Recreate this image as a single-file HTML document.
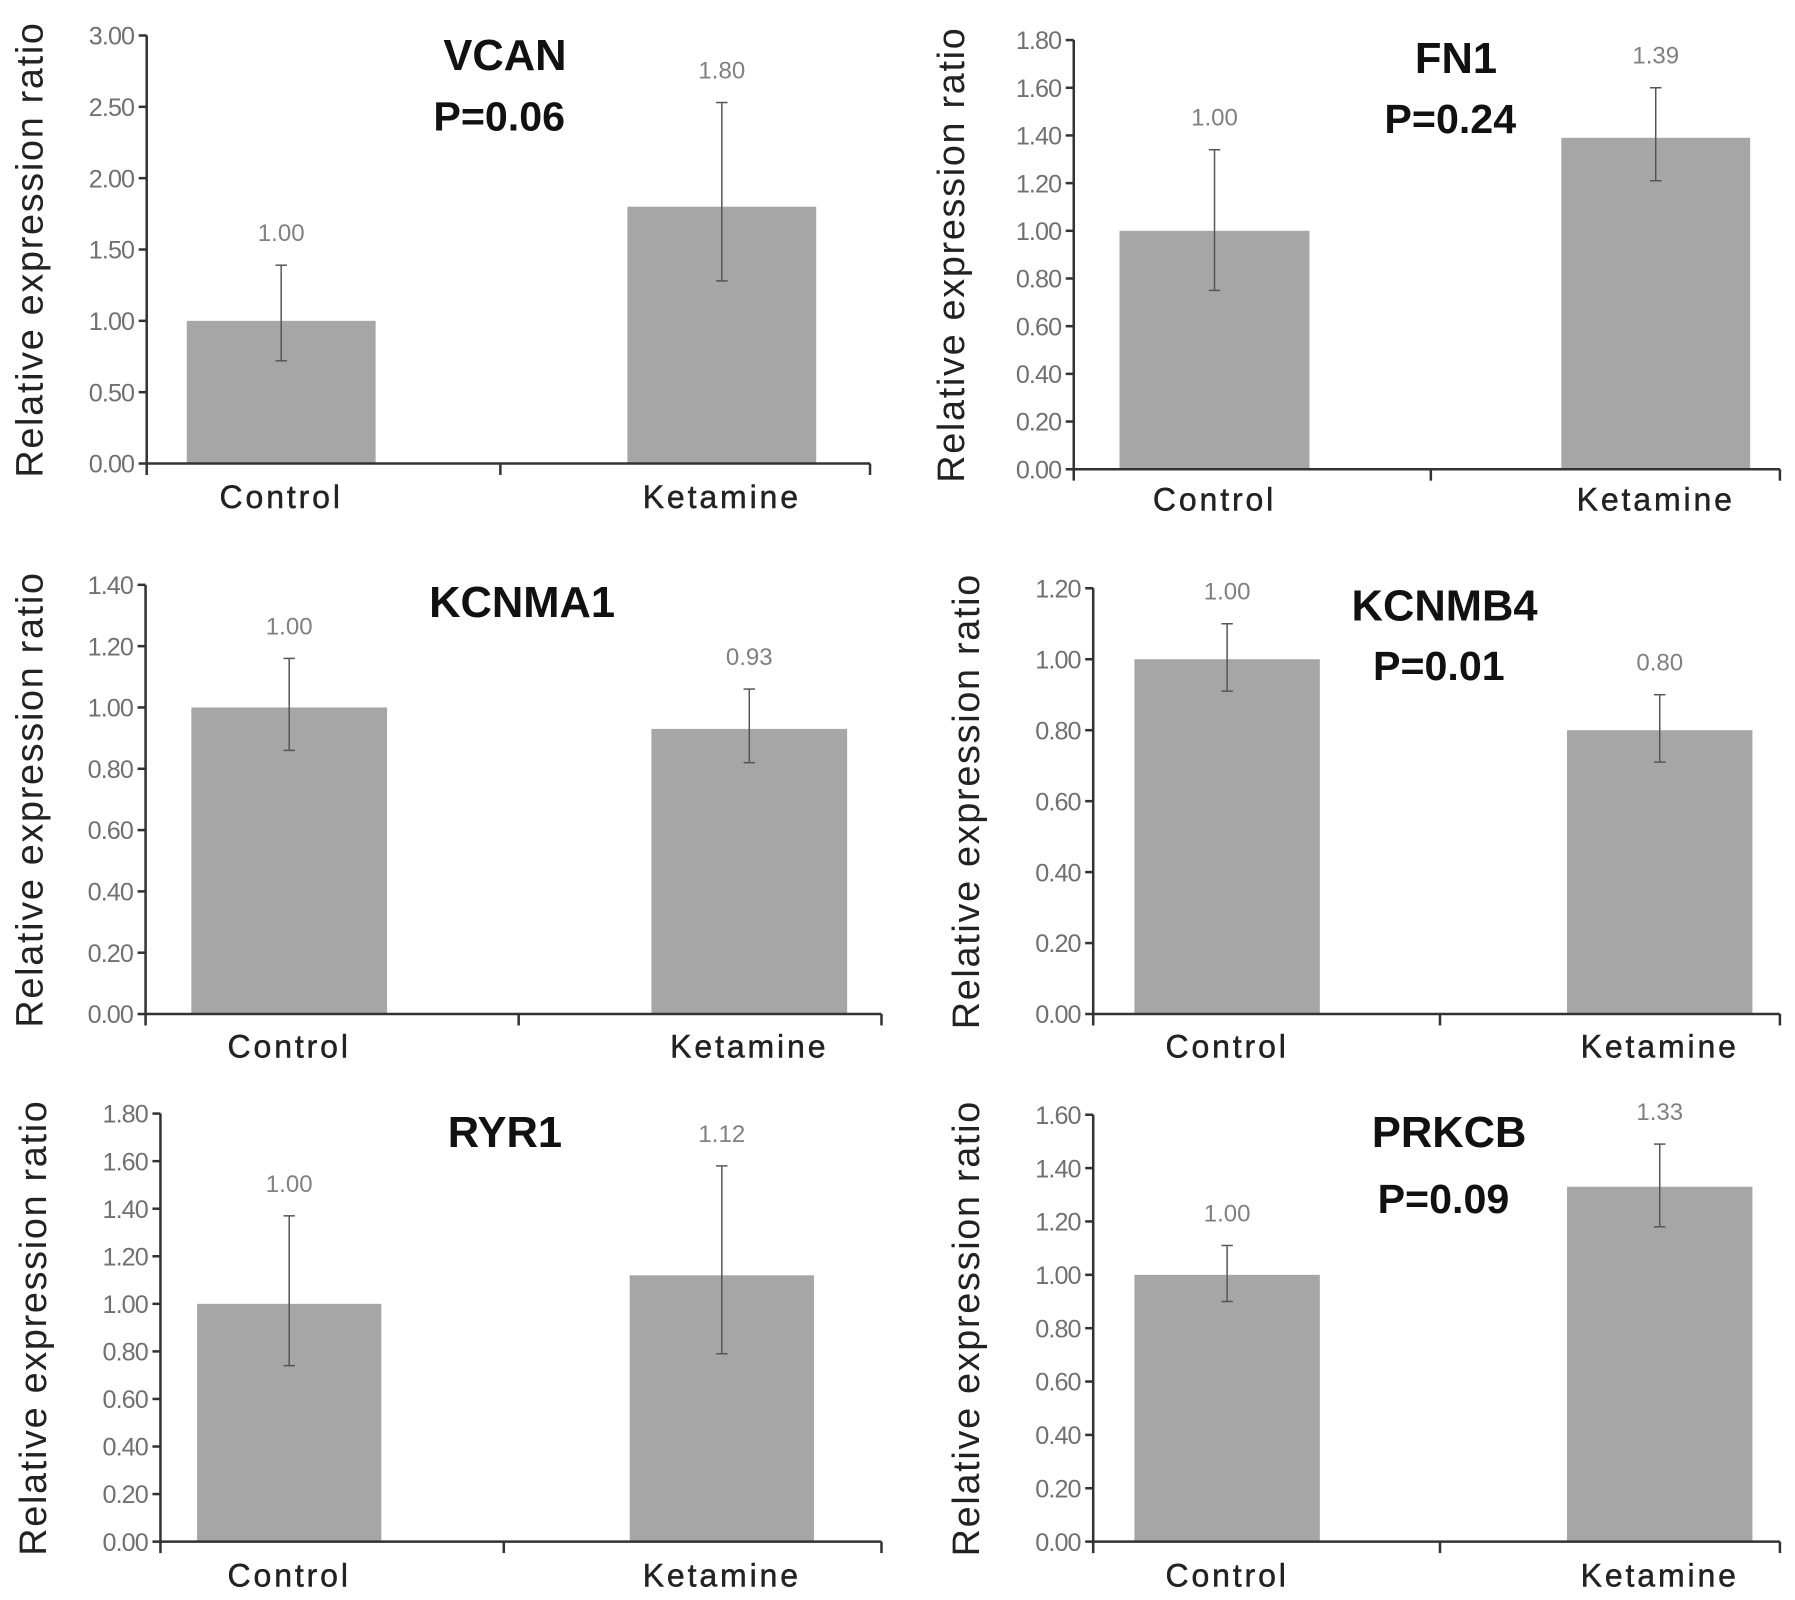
<!DOCTYPE html>
<html><head><meta charset="utf-8"><style>
html,body{margin:0;padding:0;background:#fff;}
svg{display:block;}
</style></head><body>
<svg id="fig" width="1795" height="1600" viewBox="0 0 1568 1398" xmlns="http://www.w3.org/2000/svg"></svg>
<script>
// ---- data ----
const categories = ["Control", "Ketamine"];
const genes = ["VCAN", "FN1", "KCNMA1", "KCNMB4", "RYR1", "PRKCB"];
const pLabels = ["P=0.06", "P=0.24", "", "P=0.01", "", "P=0.09"];
const vcanValues = [1.00, 1.80];
const vcanErrLow = [0.72, 1.28];
const vcanErrHigh = [1.39, 2.53];
const vcanTicks = ["0.00","0.50","1.00","1.50","2.00","2.50","3.00"];
const fn1Values = [1.00, 1.39];
const fn1ErrLow = [0.75, 1.21];
const fn1ErrHigh = [1.34, 1.60];
const fn1Ticks = ["0.00","0.20","0.40","0.60","0.80","1.00","1.20","1.40","1.60","1.80"];
const kcnma1Values = [1.00, 0.93];
const kcnma1ErrLow = [0.86, 0.82];
const kcnma1ErrHigh = [1.16, 1.06];
const kcnma1Ticks = ["0.00","0.20","0.40","0.60","0.80","1.00","1.20","1.40"];
const kcnmb4Values = [1.00, 0.80];
const kcnmb4ErrLow = [0.91, 0.71];
const kcnmb4ErrHigh = [1.10, 0.90];
const kcnmb4Ticks = ["0.00","0.20","0.40","0.60","0.80","1.00","1.20"];
const ryr1Values = [1.00, 1.12];
const ryr1ErrLow = [0.74, 0.79];
const ryr1ErrHigh = [1.37, 1.58];
const ryr1Ticks = ["0.00","0.20","0.40","0.60","0.80","1.00","1.20","1.40","1.60","1.80"];
const prkcbValues = [1.00, 1.33];
const prkcbErrLow = [0.90, 1.18];
const prkcbErrHigh = [1.11, 1.49];
const prkcbTicks = ["0.00","0.20","0.40","0.60","0.80","1.00","1.20","1.40","1.60"];

// ---- layout (pixel geometry, not data) ----
const layout = [
 {ax:128,top:31,bot:405,end:760,mid:437,bars:[[163,328],[548,713]],tx:441,ty:47,py:100,ly:434,yl:25},
 {ax:938,top:35,bot:410,end:1555,mid:1250,bars:[[978,1144],[1364,1529]],tx:1272,ty:50,py:102,ly:436,yl:830},
 {ax:127,top:511,bot:886,end:770,mid:453,bars:[[167,338],[569,740]],tx:456,ty:525,py:0,ly:914,yl:25},
 {ax:955,top:514,bot:886,end:1555,mid:1258,bars:[[991,1153],[1369,1531]],tx:1262,ty:528,py:580,ly:914,yl:843},
 {ax:140,top:973,bot:1347,end:770,mid:440,bars:[[172,333],[550,711]],tx:441,ty:988,py:0,ly:1376,yl:28},
 {ax:955,top:974,bot:1347,end:1555,mid:1258,bars:[[991,1153],[1369,1531]],tx:1266,ty:988,py:1046,ly:1376,yl:843}
];
const series = [
 [vcanValues,vcanErrLow,vcanErrHigh,vcanTicks],
 [fn1Values,fn1ErrLow,fn1ErrHigh,fn1Ticks],
 [kcnma1Values,kcnma1ErrLow,kcnma1ErrHigh,kcnma1Ticks],
 [kcnmb4Values,kcnmb4ErrLow,kcnmb4ErrHigh,kcnmb4Ticks],
 [ryr1Values,ryr1ErrLow,ryr1ErrHigh,ryr1Ticks],
 [prkcbValues,prkcbErrLow,prkcbErrHigh,prkcbTicks]
];

const NS = "http://www.w3.org/2000/svg";
const svg = document.getElementById("fig");
function mk(tag, attrs, parent, text){
  const e = document.createElementNS(NS, tag);
  for (const k in attrs) e.setAttribute(k, attrs[k]);
  if (text !== undefined) e.textContent = text;
  parent.appendChild(e);
  return e;
}
const SANS = '"Liberation Sans",sans-serif';

genes.forEach((gene, i) => {
  const L = layout[i];
  const [vals, lo, hi, ticks] = series[i];
  const yMax = parseFloat(ticks[ticks.length-1]);
  const y = v => L.bot - (v / yMax) * (L.bot - L.top);
  const g = mk("g", {}, svg);
  
  

  vals.forEach((v, j) => {
    const [x0, x1] = L.bars[j];
    const r = mk("rect", {x:x0, y:y(v), width:x1-x0, height:L.bot-y(v), fill:"#a6a6a6"}, g);
    
    
    const cx = (x0 + x1) / 2;
    const eb = mk("g", {stroke:"#555", "stroke-width":1.3}, g);
    
    
    mk("line", {x1:cx, x2:cx, y1:y(hi[j]), y2:y(lo[j])}, eb);
    mk("line", {x1:cx-5, x2:cx+5, y1:y(hi[j]), y2:y(hi[j])}, eb);
    mk("line", {x1:cx-5, x2:cx+5, y1:y(lo[j]), y2:y(lo[j])}, eb);
    const vl = mk("text", {x:cx, y:y(hi[j]) - 21, "text-anchor":"middle", "font-family":SANS, "font-size":21, fill:"#808080"}, g, v.toFixed(2));
    
    
    const cl = mk("text", {x:cx, y:L.ly + 10, "text-anchor":"middle", "font-family":SANS, "font-size":28, "letter-spacing":2.5, "font-weight":"500", fill:"#222", stroke:"#222", "stroke-width":0.4}, g, categories[j]);
    
    
  });

  const axes = mk("g", {stroke:"#333", "stroke-width":2.2, fill:"none"}, g);
  
  
  mk("line", {x1:L.ax, x2:L.ax, y1:L.top, y2:L.bot + 10}, axes);
  mk("line", {x1:L.ax, x2:L.end, y1:L.bot, y2:L.bot}, axes);
  mk("line", {x1:L.mid, x2:L.mid, y1:L.bot, y2:L.bot + 10}, axes);
  mk("line", {x1:L.end, x2:L.end, y1:L.bot, y2:L.bot + 10}, axes);
  ticks.forEach(t => {
    const ty = y(parseFloat(t));
    mk("line", {x1:L.ax - 7, x2:L.ax, y1:ty, y2:ty}, axes);
    const tl = mk("text", {x:L.ax - 11, y:ty + 8, "text-anchor":"end", "font-family":SANS, "font-size":22, "letter-spacing":-0.8, fill:"#707070", stroke:"none"}, g, t);
    
    
  });

  const cy = (L.top + L.bot) / 2;
  const yl = mk("text", {x:0, y:0, transform:`translate(${L.yl+12},${cy}) rotate(-90)`, "text-anchor":"middle", "font-family":SANS, "font-size":33, "letter-spacing":1.5, fill:"#222"}, g, "Relative expression ratio");
  
  

  const ti = mk("text", {x:L.tx, y:L.ty + 14, "text-anchor":"middle", "font-family":SANS, "font-weight":"bold", "font-size":38, fill:"#111"}, g, gene);
  
  
  if (pLabels[i]) {
    const pl = mk("text", {x:L.tx - 5, y:L.py + 14, "text-anchor":"middle", "font-family":SANS, "font-weight":"bold", "font-size":36, fill:"#111"}, g, pLabels[i]);
    
    
  }
});
</script>
</body></html>
